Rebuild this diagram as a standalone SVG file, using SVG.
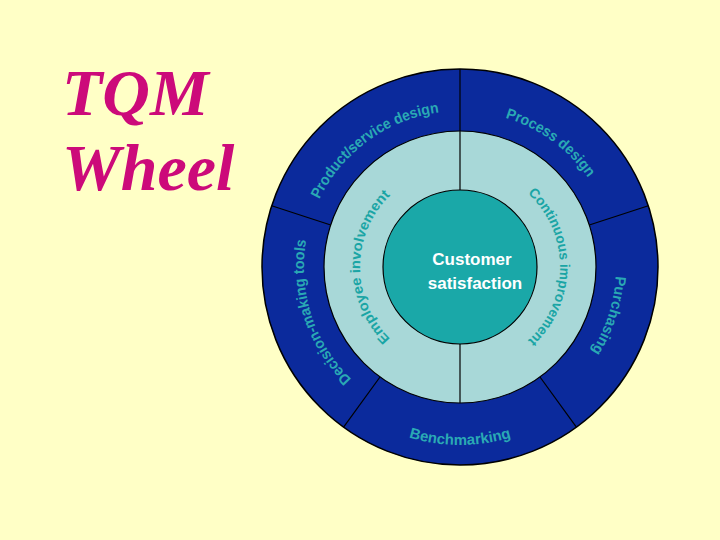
<svg xmlns="http://www.w3.org/2000/svg" xmlns:xlink="http://www.w3.org/1999/xlink" width="720" height="540" viewBox="0 0 720 540">
<style>
.ol{font-family:"Liberation Sans",Arial,sans-serif;font-weight:bold;font-size:15px;fill:#2aa9b4}
.il{font-family:"Liberation Sans",Arial,sans-serif;font-weight:bold;font-size:14px;fill:#1aa5a5}
.ln{stroke:#000;stroke-width:1.2;fill:none}
.title{font-family:"Liberation Serif","Times New Roman",serif;font-weight:bold;font-style:italic;font-size:66px;fill:#cc0a7a}
.ct{font-family:"Liberation Sans",Arial,sans-serif;font-weight:bold;font-size:17px;fill:#fff;text-anchor:middle}
</style>
<defs>
<path id="pTL" d="M311.6,218.8 A156,156 0 0 1 460,111"/>
<path id="pTR" d="M460,111 A156,156 0 0 1 608.4,218.8"/>
<path id="pR" d="M608.4,218.8 A156,156 0 0 1 551.7,393.2"/>
<path id="pL" d="M368.3,393.2 A156,156 0 0 1 311.6,218.8"/>
<path id="pB" d="M355.4,411 A178,178 0 0 0 564.6,411"/>
<path id="pIL" d="M460,367 A100,100 0 0 1 460,167"/>
<path id="pIR" d="M460,167 A100,100 0 0 1 460,367"/>
</defs>
<rect width="720" height="540" fill="#ffffc6"/>
<g id="title">
<text class="title" x="62" y="115">TQM</text>
<text class="title" x="62" y="190">Wheel</text>
</g>
<g id="outer-ring"><circle cx="460" cy="267" r="198" fill="#0b2a9c" stroke="#000" stroke-width="1.5"/></g>
<g id="middle-ring"><circle cx="460" cy="267" r="136" fill="#a8d8d8" stroke="#000" stroke-width="1.2"/></g>
<g id="customer-satisfaction">
<circle cx="460" cy="267" r="77" fill="#1aa8a8" stroke="#000" stroke-width="1.2"/>
<text class="ct" x="472" y="265">Customer</text>
<text class="ct" x="475" y="289">satisfaction</text>
</g>
<g id="connectors">
<line class="ln" x1="460" y1="131" x2="460" y2="69"/>
<line class="ln" x1="589.3" y1="225" x2="648.3" y2="205.8"/>
<line class="ln" x1="540" y1="377" x2="576.4" y2="427.2"/>
<line class="ln" x1="380" y1="377" x2="343.6" y2="427.2"/>
<line class="ln" x1="330.7" y1="225" x2="271.7" y2="205.8"/>
<line class="ln" x1="460" y1="190" x2="460" y2="131"/>
<line class="ln" x1="460" y1="344" x2="460" y2="403"/>
</g>
<g id="product-service-design"><text class="ol"><textPath xlink:href="#pTL" href="#pTL" startOffset="50%" text-anchor="middle" textLength="154" lengthAdjust="spacingAndGlyphs">Product/service design</textPath></text></g>
<g id="process-design"><text class="ol"><textPath xlink:href="#pTR" href="#pTR" startOffset="50%" text-anchor="middle" textLength="104" lengthAdjust="spacingAndGlyphs">Process design</textPath></text></g>
<g id="purchasing"><text class="ol"><textPath xlink:href="#pR" href="#pR" startOffset="50%" text-anchor="middle" textLength="80" lengthAdjust="spacingAndGlyphs">Purchasing</textPath></text></g>
<g id="benchmarking"><text class="ol"><textPath xlink:href="#pB" href="#pB" startOffset="50%" text-anchor="middle" textLength="104" lengthAdjust="spacingAndGlyphs">Benchmarking</textPath></text></g>
<g id="decision-making-tools"><text class="ol"><textPath xlink:href="#pL" href="#pL" startOffset="50%" text-anchor="middle" textLength="152" lengthAdjust="spacingAndGlyphs">Decision-making tools</textPath></text></g>
<g id="employee-involvement"><text class="il"><textPath xlink:href="#pIL" href="#pIL" startOffset="50%" text-anchor="middle" textLength="160" lengthAdjust="spacingAndGlyphs">Employee involvement</textPath></text></g>
<g id="continuous-improvement"><text class="il"><textPath xlink:href="#pIR" href="#pIR" startOffset="50%" text-anchor="middle" textLength="165" lengthAdjust="spacingAndGlyphs">Continuous improvement</textPath></text></g>
</svg>
